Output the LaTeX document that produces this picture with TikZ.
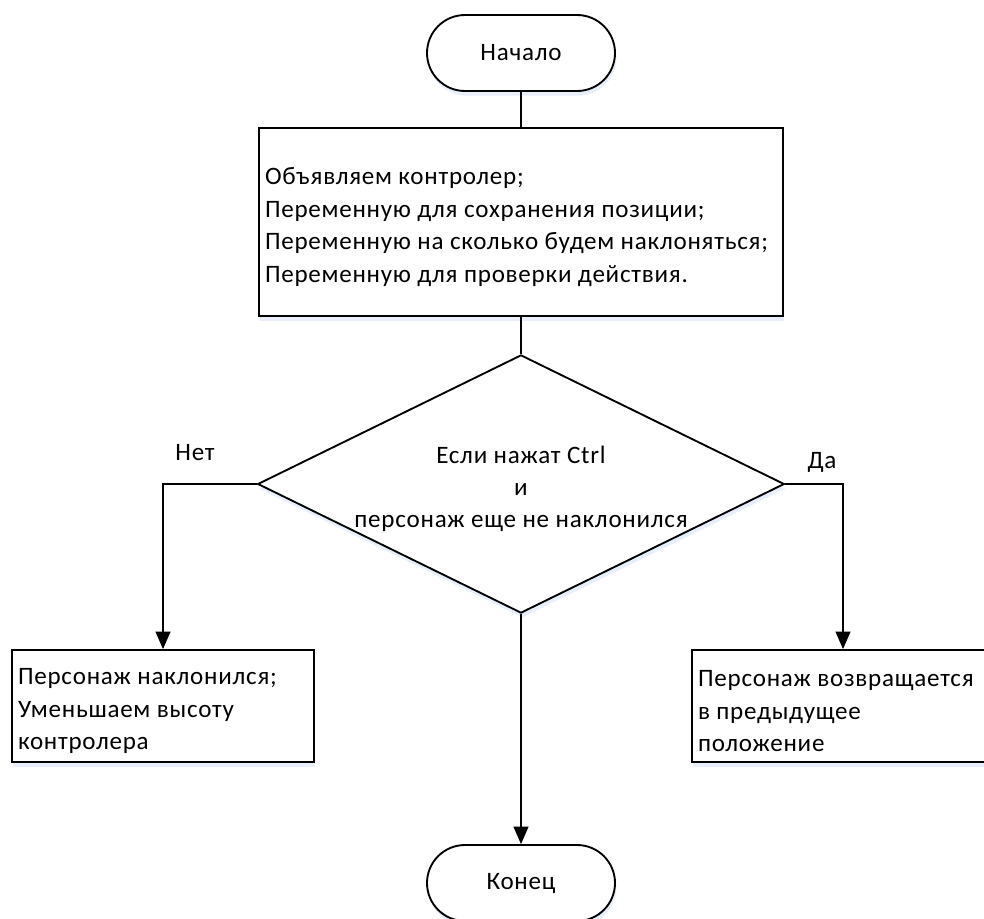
\documentclass[tikz,border=0pt]{standalone}
\usepackage{fontspec}
\setmainfont{Carlito}[LetterSpace=3]
\usetikzlibrary{shapes.geometric,arrows.meta,shadows}
\definecolor{glow}{RGB}{232,238,250}
% tall invisible strut on a first line, to set multi-line text a little lower
\newcommand\firstlinelift{\rule{0pt}{20pt}}
\begin{document}
\begin{tikzpicture}[x=0.75pt,y=-0.75pt,
  every node/.style={font=\fontsize{18.8}{24.4}\selectfont},
  line/.style={draw=black,line width=1.4pt},
  soft/.style={general shadow={fill=glow,shadow xshift=1pt,shadow yshift=-3.5pt}},
  terminal/.style={line,fill=white,soft,rectangle,rounded corners=28.5pt,
    minimum width=141pt,minimum height=57pt,inner sep=0pt},
  procbox/.style={line,fill=white,soft,rectangle,align=flush left,inner xsep=4.5pt,inner ysep=0pt},
  decision/.style={line,fill=white,soft,diamond,aspect=2.04,inner sep=0pt,
    minimum width=393pt,minimum height=193pt,align=center,
    font=\fontsize{18.8}{24}\selectfont},
  flow/.style={line,-{Triangle[length=13pt,width=11pt]}},
  plain/.style={line}]
\useasboundingbox (0,0) rectangle (984,918);

\node[terminal] (start) at (521,53) {Начало};
\node[procbox,minimum width=393pt,minimum height=141pt,text width=384pt] (init) at (521,222)
  {\firstlinelift Объявляем контролер;\\
   Переменную для сохранения позиции;\\
   Переменную на сколько будем наклоняться;\\
   Переменную для проверки действия.};
\node[decision] (cond) at (521,484)
  {\firstlinelift Если нажат Ctrl\\и\\персонаж еще не наклонился};
\node[procbox,minimum width=226.5pt,minimum height=84pt,text width=217.5pt] (lean) at (163,706)
  {\firstlinelift Персонаж наклонился;\\Уменьшаем высоту\\контролера};
\node[procbox,minimum width=226.5pt,minimum height=84pt,text width=217.5pt] (back) at (843,706)
  {\firstlinelift Персонаж возвращается\\в предыдущее\\положение};
\node[terminal] (stop) at (521,883) {Конец};

\node (no) at (195,453) {Нет};
\node (yes) at (822,462) {Да};

\draw[plain] (start) -- (init);
\draw[plain] (init) -- (cond);
\draw[flow] (cond.west) -| (lean.north);
\draw[flow] (cond.east) -| (back.north);
\draw[flow] (cond.south) -- (stop.north);
\end{tikzpicture}
\end{document}
